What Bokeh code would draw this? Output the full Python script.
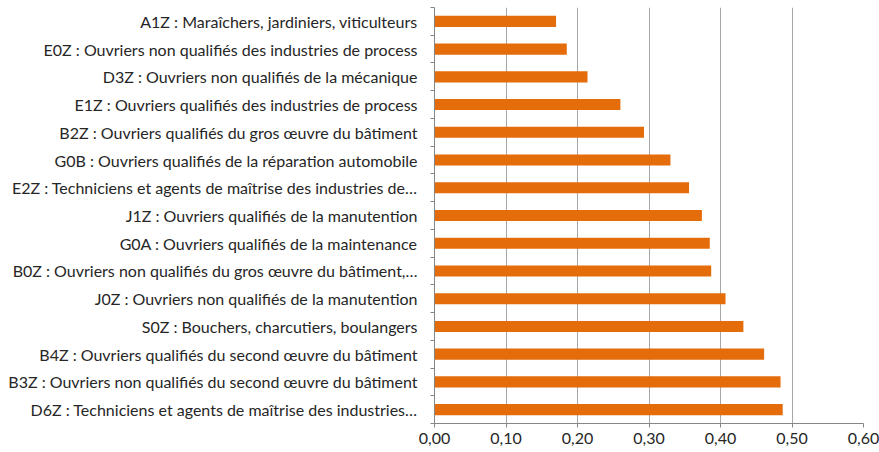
from bokeh.plotting import figure
from bokeh.models import FixedTicker, ColumnDataSource, Range1d
from bokeh.embed import file_html
from bokeh.resources import INLINE

categories = [
    "A1Z : Maraîchers, jardiniers, viticulteurs",
    "E0Z : Ouvriers non qualifiés des industries de process",
    "D3Z : Ouvriers non qualifiés de la mécanique",
    "E1Z : Ouvriers qualifiés des industries de process",
    "B2Z : Ouvriers qualifiés du gros œuvre du bâtiment",
    "G0B : Ouvriers qualifiés de la réparation automobile",
    "E2Z : Techniciens et agents de maîtrise des industries de…",
    "J1Z : Ouvriers qualifiés de la manutention",
    "G0A : Ouvriers qualifiés de la maintenance",
    "B0Z : Ouvriers non qualifiés du gros œuvre du bâtiment,…",
    "J0Z : Ouvriers non qualifiés de la manutention",
    "S0Z : Bouchers, charcutiers, boulangers",
    "B4Z : Ouvriers qualifiés du second œuvre du bâtiment",
    "B3Z : Ouvriers non qualifiés du second œuvre du bâtiment",
    "D6Z : Techniciens et agents de maîtrise des industries…",
]
values = [0.170, 0.185, 0.214, 0.260, 0.293, 0.330, 0.356, 0.374, 0.385,
          0.387, 0.407, 0.432, 0.461, 0.484, 0.487]
x_ticks = [0.0, 0.1, 0.2, 0.3, 0.4, 0.5, 0.6]
x_tick_labels = ["0,00", "0,10", "0,20", "0,30", "0,40", "0,50", "0,60"]

n = len(categories)
ypos = [n - i - 0.5 for i in range(n)]
src = ColumnDataSource(dict(y=ypos, v=values))

FONT = "Lato"
TXT = "#262626"

p = figure(width=879, height=452, output_backend="svg", toolbar_location=None,
           x_range=Range1d(0, 0.6), y_range=Range1d(0, n),
           min_border_left=434, min_border_right=16, min_border_top=7,
           min_border_bottom=29)
p.outline_line_color = None
p.background_fill_color = "white"
p.border_fill_color = "white"

p.hbar(y="y", right="v", left=0, height=0.4, source=src,
       fill_color="#E46C0A", line_color=None)

# x axis
p.xaxis.ticker = FixedTicker(ticks=x_ticks, minor_ticks=[])
p.xaxis.major_label_overrides = {t: l for t, l in zip(x_ticks, x_tick_labels)}
p.xaxis.axis_line_color = "#868686"
p.xaxis.major_tick_line_color = "#868686"
p.xaxis.major_tick_out = 4
p.xaxis.major_tick_in = 0
p.xaxis.minor_tick_line_color = None
p.xaxis.major_label_text_font = FONT
p.xaxis.major_label_text_font_size = "16px"
p.xaxis.major_label_text_color = TXT
p.xaxis.major_label_standoff = 5

# y axis
p.yaxis.ticker = FixedTicker(ticks=ypos, minor_ticks=list(range(n + 1)))
p.yaxis.major_label_overrides = {y: c for y, c in zip(ypos, categories)}
p.yaxis.axis_line_color = "#868686"
p.yaxis.major_tick_line_color = None
p.yaxis.major_tick_out = 0
p.yaxis.major_tick_in = 0
p.yaxis.minor_tick_line_color = "#868686"
p.yaxis.minor_tick_out = 4
p.yaxis.minor_tick_in = 0
p.yaxis.major_label_text_font = FONT
p.yaxis.major_label_text_font_size = "16px"
p.yaxis.major_label_text_color = TXT
p.yaxis.major_label_standoff = 13

p.xgrid.ticker = FixedTicker(ticks=x_ticks)
p.xgrid.grid_line_color = "#A6A6A6"
p.xgrid.grid_line_width = 1
p.ygrid.grid_line_color = None

open("out.html", "w").write(file_html(p, INLINE))
